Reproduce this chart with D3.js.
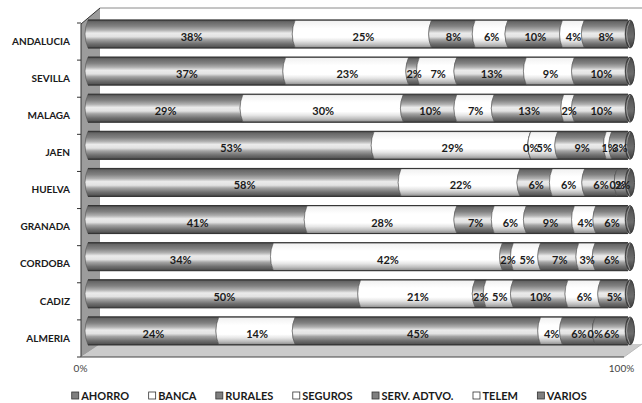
<!DOCTYPE html>
<html>
<head>
<meta charset="utf-8">
<script src="https://cdn.jsdelivr.net/npm/d3@7/dist/d3.min.js"></script>
<style>
  html, body { margin: 0; padding: 0; background: #fff; }
  svg { display: block; }
</style>
</head>
<body>
<svg id="chart" width="642" height="403"></svg>
<script>
const categories = ["ANDALUCIA","SEVILLA","MALAGA","JAEN","HUELVA","GRANADA","CORDOBA","CADIZ","ALMERIA"];
const seriesNames = ["AHORRO","BANCA","RURALES","SEGUROS","SERV. ADTVO.","TELEM","VARIOS"];
const ahorro    = [38,37,29,53,58,41,34,50,24];
const banca     = [25,23,30,29,22,28,42,21,14];
const rurales   = [8, 2,10, 0, 6, 7, 2, 2,45];
const seguros   = [6, 7, 7, 5, 6, 6, 5, 5, 4];
const servAdtvo = [10,13,13,9, 6, 9, 7,10, 6];
const telem     = [4, 9, 2, 1, 0, 4, 3, 6, 0];
const varios    = [8,10,10, 3, 2, 6, 6, 5, 6];
const seriesValues = [ahorro, banca, rurales, seguros, servAdtvo, telem, varios];
const seriesDark = [true, false, true, false, true, false, true];
const tickValues = [0, 1];
const tickLabels = ["0%","100%"];

const table = categories.map((c, i) => {
  const row = { cat: c };
  seriesNames.forEach((s, j) => row[s] = seriesValues[j][i]);
  return row;
});
const stacked = d3.stack().keys(seriesNames).offset(d3.stackOffsetExpand)(table);

const svg = d3.select("#chart");
const FONT = "Lato, 'Open Sans', sans-serif";

const defs = svg.append("defs");
function grad(id, stops) {
  const g = defs.append("linearGradient").attr("id", id)
    .attr("x1", 0).attr("y1", 0).attr("x2", 0).attr("y2", 1);
  stops.forEach(([o, c]) => g.append("stop").attr("offset", o).attr("stop-color", c));
}
grad("gDark", [[0,"#3c3c3c"],[0.06,"#666"],[0.22,"#828282"],[0.36,"#b0b0b0"],[0.47,"#ebebeb"],[0.6,"#e2e2e2"],[0.7,"#a4a4a4"],[0.85,"#707070"],[0.95,"#575757"],[1,"#333"]]);
grad("gLight", [[0,"#9a9a9a"],[0.05,"#f2f2f2"],[0.3,"#ffffff"],[0.62,"#ffffff"],[0.75,"#e6e6e6"],[0.88,"#bdbdbd"],[0.96,"#9a9a9a"],[1,"#555"]]);
grad("gCap", [[0,"#444"],[0.3,"#5e5e5e"],[0.6,"#6c6c6c"],[1,"#3a3a3a"]]);

// scales
const x = d3.scaleLinear().domain([0, 1]).range([88, 628]);
const y = d3.scaleBand().domain(categories).range([23, 357]).paddingInner(0).paddingOuter(0);
const barOff = -3, barH = 28, r = 3;
const xFront = d3.scaleLinear().domain([0, 1]).range([80, 621]);

// 3D walls
svg.append("line").attr("x1", 100).attr("y1", 8).attr("x2", 642).attr("y2", 8)
  .attr("stroke", "#8a8a8a").attr("stroke-width", 1);
svg.append("path").attr("d", "M81,24 L100,8 L100,345 L81,357 Z")
  .attr("fill", "#9c9c9c").attr("stroke", "none");
svg.append("line").attr("x1", 81).attr("y1", 24).attr("x2", 81).attr("y2", 357)
  .attr("stroke", "#333").attr("stroke-width", 1);
svg.append("line").attr("x1", 81).attr("y1", 24).attr("x2", 100).attr("y2", 8)
  .attr("stroke", "#333").attr("stroke-width", 1);
svg.append("path").attr("d", "M81,357 L100,344 L642,344 L624,357 Z")
  .attr("fill", "#cbcbcb").attr("stroke", "none");
svg.append("line").attr("x1", 81).attr("y1", 357).attr("x2", 624).attr("y2", 357)
  .attr("stroke", "#444").attr("stroke-width", 1);
svg.append("line").attr("x1", 624).attr("y1", 357).attr("x2", 642).attr("y2", 344)
  .attr("stroke", "#bbb").attr("stroke-width", 1);

// left axis (category labels + ticks)
const yAxisG = svg.append("g").attr("transform", "translate(81,0)")
  .call(d3.axisLeft(y).tickSize(0).tickPadding(11));
yAxisG.select(".domain").remove();
yAxisG.selectAll("text").attr("font-family", FONT).attr("font-weight", 700)
  .attr("font-size", "10px").attr("fill", "#1a1a1a");
const tickYs = categories.map(c => y(c)).concat([y.range()[1]]);
svg.append("g").selectAll("line").data(tickYs).join("line")
  .attr("x1", 77).attr("x2", 81).attr("y1", d => d).attr("y2", d => d)
  .attr("stroke", "#333").attr("stroke-width", 1);

// bottom axis labels
const xAxisG = svg.append("g").attr("transform", "translate(0,362)")
  .call(d3.axisBottom(xFront).tickValues(tickValues).tickFormat((d, i) => tickLabels[i]).tickSize(0).tickPadding(3));
xAxisG.select(".domain").remove();
xAxisG.selectAll("text").attr("font-family", FONT).attr("font-size", "10px").attr("fill", "#444");

// bars
function segPath(x0, x1, top, bot) {
  const mid = (top + bot) / 2;
  return `M${x0},${top} L${x1},${top} Q${x1 - 2 * r},${mid} ${x1},${bot} L${x0},${bot} Q${x0 - 2 * r},${mid} ${x0},${top} Z`;
}
const barsG = svg.append("g");
categories.forEach((cat, i) => {
  const top = y(cat) + barOff, bot = top + barH, mid = (top + bot) / 2;
  const g = barsG.append("g");
  stacked.forEach((s, j) => {
    const d = s[i];
    const x0 = x(d[0]), x1 = x(d[1]);
    g.append("path").attr("d", segPath(x0, x1, top, bot))
      .attr("fill", seriesDark[j] ? "url(#gDark)" : "url(#gLight)")
      .attr("stroke", "#555").attr("stroke-width", 0.6);
  });
  g.append("line").attr("x1", x(0)).attr("x2", x(1)).attr("y1", top).attr("y2", top)
    .attr("stroke", "#333").attr("stroke-width", 1);
  g.append("line").attr("x1", x(0)).attr("x2", x(1)).attr("y1", bot).attr("y2", bot)
    .attr("stroke", "#333").attr("stroke-width", 1);
  g.append("ellipse").attr("cx", x(1) + 2).attr("cy", mid).attr("rx", 4.5).attr("ry", barH / 2)
    .attr("fill", "url(#gCap)").attr("stroke", "#2a2a2a").attr("stroke-width", 0.8);
  g.append("path").attr("d", `M${x(1) + 2},${top + 0.5} Q${x(1) - 5},${mid} ${x(1) + 2},${bot - 0.5}`)
    .attr("fill", "none").attr("stroke", "#aaa").attr("stroke-width", 0.8);
  stacked.forEach((s, j) => {
    const d = s[i];
    g.append("text").attr("x", (x(d[0]) + x(d[1])) / 2).attr("y", mid + 7)
      .attr("text-anchor", "middle").attr("font-family", FONT).attr("font-weight", 700)
      .attr("font-size", "11px").attr("fill", "#1a1a1a")
      .text(seriesValues[j][i] + "%");
  });
});

// legend
const legG = svg.append("g");
let cx = 0;
seriesNames.forEach((s, j) => {
  const it = legG.append("g");
  it.append("rect").attr("x", 0.5).attr("y", -8).attr("width", 7).attr("height", 7)
    .attr("fill", seriesDark[j] ? "#7f7f7f" : "#fff").attr("stroke", "#333").attr("stroke-width", 0.8);
  const t = it.append("text").attr("x", 10).attr("y", 0).attr("font-family", FONT)
    .attr("font-weight", 700).attr("font-size", "11px").attr("fill", "#1a1a1a").text(s);
  const w = 10 + t.node().getComputedTextLength();
  it.attr("transform", `translate(${cx},0)`);
  cx += w + 19;
});
const totalW = cx - 19;
legG.attr("transform", `translate(${329 - totalW / 2},400)`);
</script>
</body>
</html>
